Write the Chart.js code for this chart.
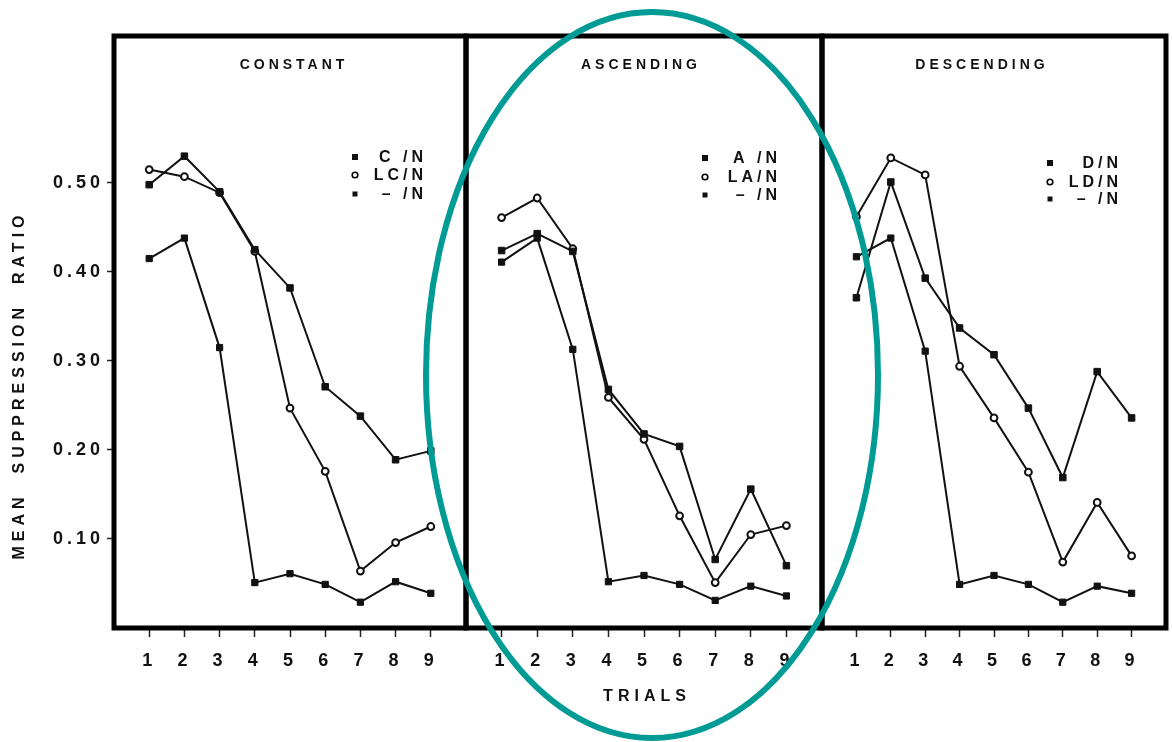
<!DOCTYPE html>
<html>
<head>
<meta charset="utf-8">
<script src="https://cdn.jsdelivr.net/npm/chart.js@4.4.1/dist/chart.umd.min.js"></script>
<style>
  html, body { margin: 0; padding: 0; background: #fff; }
  #wrap { position: relative; width: 1172px; height: 742px; overflow: hidden; background: #fff; }
  #wrap canvas { position: absolute; top: 0; }
  #ring { position: absolute; left: 0; top: 0; pointer-events: none; }
</style>
</head>
<body>
<div id="wrap">
  <canvas id="panelConstant" width="472" height="742" style="left:0px"></canvas>
  <canvas id="panelAscending" width="368" height="742" style="left:460px"></canvas>
  <canvas id="panelDescending" width="356" height="742" style="left:816px"></canvas>
  <svg id="ring" width="1172" height="742">
    <ellipse cx="652" cy="375" rx="226" ry="363" fill="none" stroke="#009b95" stroke-width="6"/>
  </svg>
</div>
<script>
// Trials on the x axis and the tick values of the suppression-ratio axis
const trials = [1, 2, 3, 4, 5, 6, 7, 8, 9];
const yTickValues = [0.1, 0.2, 0.3, 0.4, 0.5];

const yAxisTitle = 'MEAN  SUPPRESSION  RATIO';
const xAxisTitle = 'TRIALS';
const panelTitles = ['CONSTANT', 'ASCENDING', 'DESCENDING'];

// Constant condition
const constantLabels = ['C /N', 'LC/N', '– /N'];
const constantCN  = [0.498, 0.530, 0.490, 0.425, 0.382, 0.271, 0.238, 0.189, 0.199];
const constantLCN = [0.515, 0.507, 0.489, 0.423, 0.247, 0.176, 0.064, 0.096, 0.114];
const constantN   = [0.415, 0.438, 0.315, 0.051, 0.061, 0.049, 0.029, 0.052, 0.039];

// Ascending condition
const ascendingLabels = ['A /N', 'LA/N', '– /N'];
const ascendingAN  = [0.424, 0.443, 0.423, 0.268, 0.218, 0.204, 0.077, 0.156, 0.070];
const ascendingLAN = [0.461, 0.483, 0.426, 0.259, 0.212, 0.126, 0.051, 0.105, 0.115];
const ascendingN   = [0.411, 0.438, 0.313, 0.052, 0.059, 0.049, 0.031, 0.047, 0.036];

// Descending condition
const descendingLabels = ['D/N', 'LD/N', '– /N'];
const descendingDN  = [0.371, 0.501, 0.393, 0.337, 0.307, 0.247, 0.169, 0.288, 0.236];
const descendingLDN = [0.462, 0.528, 0.509, 0.294, 0.236, 0.175, 0.074, 0.141, 0.081];
const descendingN   = [0.417, 0.438, 0.311, 0.049, 0.059, 0.049, 0.029, 0.047, 0.039];

const FONT = '"Liberation Sans", Arial, Helvetica, sans-serif';
const INK = '#111';

function points(values) {
  return trials.map((t, i) => ({ x: t, y: values[i] }));
}

function seriesSet(labels, main, light, none) {
  return [
    { label: labels[0], data: points(main), borderColor: INK, borderWidth: 2,
      pointStyle: 'rect', pointRadius: 4.6, pointBackgroundColor: INK, pointBorderColor: INK, pointBorderWidth: 1 },
    { label: labels[1], data: points(light), borderColor: INK, borderWidth: 2,
      pointStyle: 'circle', pointRadius: 3.4, pointBackgroundColor: '#fff', pointBorderColor: INK, pointBorderWidth: 2 },
    { label: labels[2], data: points(none), borderColor: INK, borderWidth: 2,
      pointStyle: 'rect', pointRadius: 4.4, pointBackgroundColor: INK, pointBorderColor: INK, pointBorderWidth: 1 }
  ];
}

// Frame, panel heading, inline key and free-standing axis titles
const panelDecor = {
  id: 'panelDecor',
  beforeDraw(chart) {
    chart.ctx.letterSpacing = '4px';
  },
  afterDraw(chart, args, o) {
    const { ctx, chartArea: a } = chart;
    ctx.save();
    ctx.letterSpacing = '0px';
    ctx.strokeStyle = '#000';
    ctx.lineWidth = 5;
    ctx.strokeRect(a.left, a.top, a.right - a.left, a.bottom - a.top);

    ctx.fillStyle = INK;
    ctx.textBaseline = 'middle';
    ctx.textAlign = 'center';
    ctx.font = 'bold 14px ' + FONT;
    ctx.letterSpacing = '4px';
    ctx.fillText(o.title, o.titleX + 2, o.titleY);

    // key
    ctx.font = 'bold 16px ' + FONT;
    ctx.letterSpacing = '4px';
    ctx.textAlign = 'right';
    chart.data.datasets.forEach((ds, i) => {
      const y = o.keyRows[i];
      ctx.fillText(ds.label, o.keyTextRight + 4, y + 1);
      ctx.beginPath();
      if (i === 1) {
        ctx.lineWidth = 1.6;
        ctx.arc(o.keyMarkX, y, 2.8, 0, Math.PI * 2);
        ctx.fillStyle = '#fff';
        ctx.fill();
        ctx.stroke();
        ctx.fillStyle = INK;
      } else {
        const s = i === 0 ? 6 : 5;
        ctx.rect(o.keyMarkX - s / 2, y - s / 2, s, s);
        ctx.fill();
      }
    });

    if (o.yTitle) {
      ctx.save();
      ctx.translate(o.yTitle.x, o.yTitle.y);
      ctx.rotate(-Math.PI / 2);
      ctx.textAlign = 'center';
      ctx.font = 'bold 16px ' + FONT;
      ctx.letterSpacing = '5px';
      ctx.fillText(yAxisTitle, 2, 0);
      ctx.restore();
    }
    if (o.xTitle) {
      ctx.textAlign = 'center';
      ctx.font = 'bold 16px ' + FONT;
      ctx.letterSpacing = '5px';
      ctx.fillText(xAxisTitle, o.xTitle.x + 2, o.xTitle.y);
    }
    ctx.restore();
    ctx.letterSpacing = '0px';
  }
};

function makePanel(id, datasets, cfg) {
  return new Chart(document.getElementById(id), {
    type: 'line',
    data: { datasets },
    plugins: [panelDecor],
    options: {
      responsive: false,
      animation: false,
      devicePixelRatio: 1,
      layout: { padding: { top: 36, bottom: 0, left: cfg.padLeft, right: cfg.padRight } },
      plugins: {
        legend: { display: false },
        tooltip: { enabled: false },
        panelDecor: cfg.decor
      },
      elements: { line: { tension: 0 } },
      scales: {
        x: {
          type: 'linear', min: 0, max: 10,
          afterBuildTicks: s => { s.ticks = trials.map(v => ({ value: v })); },
          afterFit: s => { s.height = 114; },
          border: { display: false },
          grid: { drawOnChartArea: false, drawTicks: true, tickLength: 9, tickWidth: 1.5, tickColor: '#222' },
          ticks: { color: INK, padding: 13, maxRotation: 0, autoSkip: false,
                   font: { family: FONT, size: 18, weight: 'bold' } }
        },
        y: {
          display: cfg.showY,
          min: 0, max: 0.665,
          afterBuildTicks: s => { s.ticks = yTickValues.map(v => ({ value: v })); },
          afterFit: s => { s.width = cfg.showY ? 114 : 0; },
          border: { display: false },
          grid: { drawOnChartArea: false, drawTicks: true, tickLength: 7, tickWidth: 1.5, tickColor: '#222' },
          ticks: { color: INK, padding: 3, callback: v => v.toFixed(2),
                   font: { family: FONT, size: 18, weight: 'bold' } }
        }
      }
    }
  });
}

makePanel('panelConstant', seriesSet(constantLabels, constantCN, constantLCN, constantN), {
  showY: true, padLeft: 0, padRight: 6,
  decor: { title: panelTitles[0], titleX: 292, titleY: 65,
           keyMarkX: 355, keyTextRight: 423, keyRows: [157, 175, 194],
           yTitle: { x: 20, y: 387 } }
});

makePanel('panelAscending', seriesSet(ascendingLabels, ascendingAN, ascendingLAN, ascendingN), {
  showY: false, padLeft: 6, padRight: 6,
  decor: { title: panelTitles[1], titleX: 179, titleY: 65,
           keyMarkX: 245, keyTextRight: 317, keyRows: [158, 177, 195],
           xTitle: { x: 185, y: 697 } }
});

makePanel('panelDescending', seriesSet(descendingLabels, descendingDN, descendingLDN, descendingN), {
  showY: false, padLeft: 6, padRight: 3,
  decor: { title: panelTitles[2], titleX: 164, titleY: 65,
           keyMarkX: 234, keyTextRight: 302, keyRows: [163, 182, 199] }
});
</script>
</body>
</html>
